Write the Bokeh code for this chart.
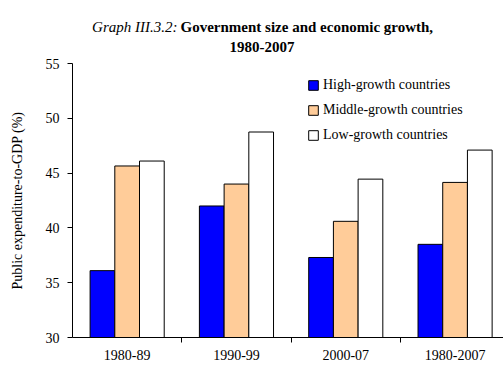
from bokeh.plotting import figure
from bokeh.models import Range1d, FixedTicker, Label, Legend, LegendItem
from bokeh.layouts import column
from bokeh.embed import file_html
from bokeh.resources import INLINE

periods = ["1980-89", "1990-99", "2000-07", "1980-2007"]
series_names = ["High-growth countries", "Middle-growth countries", "Low-growth countries"]
high = [36.1, 42.0, 37.3, 38.5]
middle = [45.65, 44.0, 40.6, 44.15]
low = [46.1, 48.75, 44.45, 47.1]
y_ticks = [30, 35, 40, 45, 50, 55]
colors = ["#0000FF", "#FFCC99", "#FFFFFF"]

FONT = "Liberation Serif"
W = 503
TH = 56
LEFT = 72

# ---- title figure (its frame is aligned with the main figure's frame) ----
tf = figure(width=W, height=TH, output_backend="svg", toolbar_location=None,
            x_range=Range1d(LEFT, W), y_range=Range1d(0, TH),
            x_axis_location=None, y_axis_location=None,
            min_border=0, min_border_left=LEFT, min_border_right=0,
            min_border_top=0, min_border_bottom=0)
tf.grid.visible = False
tf.outline_line_color = None
tf.border_fill_color = "white"
tf.background_fill_color = "white"
t1a = Label(x=177, y=TH - 26, text="Graph III.3.2:", text_font=FONT, text_font_size="15px",
            text_font_style="italic", text_align="right", text_baseline="alphabetic",
            text_color="black")
t1b = Label(x=180, y=TH - 26, text="Government size and economic growth,", text_font=FONT,
            text_font_size="15px", text_font_style="bold", text_align="left",
            text_baseline="alphabetic", text_color="black")
t2 = Label(x=261.5, y=TH - 46.7, text="1980-2007", text_font=FONT, text_font_size="15px",
           text_font_style="bold", text_align="center", text_baseline="alphabetic",
           text_color="black")
for t in (t1a, t1b, t2):
    tf.add_layout(t)

# ---- main figure ----
p = figure(width=W, height=367 - TH, output_backend="svg", toolbar_location=None,
           x_range=Range1d(-0.5, 3.443), y_range=Range1d(30, 55),
           min_border_left=LEFT, min_border_right=0, min_border_top=63 - TH, min_border_bottom=30)
p.outline_line_color = None
p.xgrid.visible = False
p.ygrid.visible = False
p.background_fill_color = "white"
p.border_fill_color = "white"

centers = list(range(len(periods)))
bw = 0.226
renderers = []
for k, (vals, col) in enumerate(zip([high, middle, low], colors)):
    xs = [c + (k - 1) * bw for c in centers]
    r = p.vbar(x=xs, top=vals, bottom=30, width=bw, fill_color=col,
               line_color="black", line_width=1)
    renderers.append(r)

legend = Legend(items=[LegendItem(label=n, renderers=[r]) for n, r in zip(series_names, renderers)],
                location=(235, 192), orientation="vertical")
legend.glyph_width = 12
legend.glyph_height = 12
legend.label_height = 20
legend.spacing = 5
legend.padding = 0
legend.margin = 0
legend.label_standoff = 4
legend.border_line_color = None
legend.background_fill_alpha = 0
legend.label_text_font = FONT
legend.label_text_font_size = "14px"
legend.label_text_color = "black"
p.add_layout(legend)

# x axis
xa = p.xaxis[0]
xa.ticker = FixedTicker(ticks=centers, minor_ticks=[c + 0.5 for c in centers[:-1]])
xa.major_label_overrides = {i: lab for i, lab in enumerate(periods)}
xa.major_tick_out = 0
xa.major_tick_in = 0
xa.major_tick_line_color = None
xa.minor_tick_out = 5
xa.minor_tick_in = 0
xa.minor_tick_line_color = "black"
xa.axis_line_color = "black"
xa.major_label_standoff = 7
xa.major_label_text_font = FONT
xa.major_label_text_font_size = "14px"
xa.major_label_text_color = "black"

# y axis
ya = p.yaxis[0]
ya.ticker = FixedTicker(ticks=y_ticks, minor_ticks=[])
ya.major_tick_out = 5
ya.major_tick_in = 0
ya.major_tick_line_color = "black"
ya.minor_tick_line_color = None
ya.axis_line_color = "black"
ya.major_label_standoff = 8
ya.major_label_text_font = FONT
ya.major_label_text_font_size = "14px"
ya.major_label_text_color = "black"
ya.axis_label = "Public expenditure-to-GDP (%)"
ya.axis_label_text_font = FONT
ya.axis_label_text_font_size = "14px"
ya.axis_label_text_font_style = "normal"
ya.axis_label_text_color = "black"
ya.axis_label_standoff = 18

layout = column(tf, p, spacing=0)
open("out.html", "w").write(file_html(layout, INLINE))
